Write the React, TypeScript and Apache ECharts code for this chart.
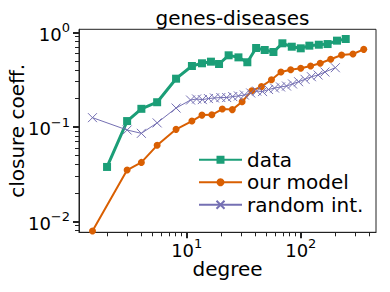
import React, { useEffect, useRef } from "react";
import * as echarts from "echarts";

const dataX = [2.0, 3.0, 4.0, 5.5, 8.06, 11.1, 13.6, 16.3, 19.2, 23.3, 28.4, 34, 40.6, 48.3, 57.6, 69, 83.4, 100, 119, 144, 172, 208, 248];
const dataY = [0.0376, 0.115, 0.155, 0.182, 0.323, 0.44, 0.47, 0.489, 0.462, 0.571, 0.543, 0.482, 0.682, 0.65, 0.619, 0.765, 0.704, 0.677, 0.722, 0.739, 0.751, 0.816, 0.849];

const modelX = [1.49, 3.0, 4.0, 5.5, 8.06, 11.1, 13.6, 16.6, 20.5, 25.1, 30.6, 37.2, 45.2, 55.3, 67, 81.6, 100, 122, 148, 183, 228, 287, 357];
const modelY = [0.00789, 0.0349, 0.042, 0.0637, 0.094, 0.115, 0.133, 0.134, 0.154, 0.152, 0.184, 0.241, 0.266, 0.315, 0.38, 0.402, 0.416, 0.44, 0.47, 0.518, 0.575, 0.589, 0.66];

const randomX = [1.49, 3.0, 4.0, 5.5, 8.06, 10.8, 12.2, 13.7, 15.5, 17.5, 19.9, 22.4, 25.3, 28.4, 32.0, 36.4, 41.1, 46.2, 52.2, 58.9, 66.5, 75.0, 84.7, 95.7, 109, 124, 142, 163, 201];
const randomY = [0.125, 0.0925, 0.0853, 0.11, 0.158, 0.192, 0.197, 0.194, 0.199, 0.202, 0.204, 0.204, 0.209, 0.212, 0.217, 0.228, 0.239, 0.236, 0.248, 0.257, 0.264, 0.27, 0.284, 0.3, 0.318, 0.339, 0.353, 0.38, 0.422];

const xMajorTicks = [10, 100];
const xMinorTicks = [2, 3, 4, 5, 6, 7, 8, 9, 20, 30, 40, 50, 60, 70, 80, 90, 200, 300, 400];
const yMajorTicks = [0.01, 0.1, 1];
const yMinorTicks = [0.008, 0.009, 0.02, 0.03, 0.04, 0.05, 0.06, 0.07, 0.08, 0.09, 0.2, 0.3, 0.4, 0.5, 0.6, 0.7, 0.8, 0.9];

const X_MIN = 1.135;
const X_MAX = 457;
const Y_MIN = 0.00765;
const Y_MAX = 1.076;

const FONT = "DejaVu Sans";
const AXIS_COLOR = "#222";

const zip = (xs: number[], ys: number[]) => xs.map((x, i) => [x, ys[i]]);

const powLabel = (v: number) => {
  const e = Math.round(Math.log10(v));
  const s = e < 0 ? "\u2212" + String(-e) : String(e);
  return "{b|10}{s|" + s + "}";
};

const richSup = {
  b: { fontFamily: FONT, fontSize: 18, color: "#000", verticalAlign: "bottom", padding: [4, 0, 0, 0] },
  s: { fontFamily: FONT, fontSize: 13, color: "#000", verticalAlign: "top" },
};

export default function App() {
  const ref = useRef<HTMLDivElement>(null);
  useEffect(() => {
    document.body.style.margin = "0";
    if (!ref.current) return;
    const chart = echarts.init(ref.current, null, { renderer: "svg" });
    const baseX = { type: "log", logBase: 10, min: X_MIN, max: X_MAX, gridIndex: 0, position: "bottom", splitLine: { show: false } };
    const baseY = { type: "log", logBase: 10, min: Y_MIN, max: Y_MAX, gridIndex: 0, position: "left", splitLine: { show: false } };
    chart.setOption({
      animation: false,
      title: {
        text: "genes-diseases",
        left: 227.5,
        top: 3,
        textAlign: "center",
        textStyle: { fontFamily: FONT, fontSize: 20, fontWeight: "normal", color: "#000" },
      },
      grid: {
        left: 79,
        right: 14,
        top: 29.3,
        bottom: 59.7,
        outerBoundsMode: "none",
        containLabel: false,
        show: true,
        borderColor: AXIS_COLOR,
        borderWidth: 1,
        backgroundColor: "transparent",
      },
      legend: {
        orient: "vertical",
        left: 193,
        top: 143,
        itemWidth: 43,
        itemHeight: 10,
        itemGap: -1,
        textStyle: { fontFamily: FONT, fontSize: 20, color: "#000", lineHeight: 23.5 },
        data: ["data", "our model", "random int."],
      },
      xAxis: [
        {
          ...baseX,
          name: "degree",
          nameLocation: "middle",
          nameGap: 27,
          nameMoveOverlap: false,
          nameTextStyle: { fontFamily: FONT, fontSize: 20, color: "#000" },
          axisLine: { show: true, lineStyle: { color: AXIS_COLOR, width: 1 } },
          axisTick: { show: true, length: 6, customValues: xMajorTicks, lineStyle: { color: AXIS_COLOR, width: 2 } },
          axisLabel: { show: true, margin: 5, fontFamily: FONT, fontSize: 18, customValues: xMajorTicks, formatter: powLabel, rich: richSup },
        },
        {
          ...baseX,
          axisLine: { show: false },
          axisTick: { show: true, length: 4, customValues: xMinorTicks, lineStyle: { color: AXIS_COLOR, width: 1 } },
          axisLabel: { show: false },
        },
      ],
      yAxis: [
        {
          ...baseY,
          name: "closure coeff.",
          nameLocation: "middle",
          nameGap: 52,
          nameRotate: 90,
          nameMoveOverlap: false,
          nameTextStyle: { fontFamily: FONT, fontSize: 20, color: "#000" },
          axisLine: { show: true, lineStyle: { color: AXIS_COLOR, width: 1 } },
          axisTick: { show: true, length: 6, customValues: yMajorTicks, lineStyle: { color: AXIS_COLOR, width: 2 } },
          axisLabel: { show: true, margin: 9, fontFamily: FONT, fontSize: 18, customValues: yMajorTicks, formatter: powLabel, rich: richSup },
        },
        {
          ...baseY,
          axisLine: { show: false },
          axisTick: { show: true, length: 4, customValues: yMinorTicks, lineStyle: { color: AXIS_COLOR, width: 1 } },
          axisLabel: { show: false },
        },
      ],
      series: [
        {
          name: "data",
          type: "line",
          xAxisIndex: 0,
          yAxisIndex: 0,
          data: zip(dataX, dataY),
          symbol: "rect",
          symbolSize: 8,
          lineStyle: { color: "#1b9e77", width: 3 },
          itemStyle: { color: "#1b9e77" },
        },
        {
          name: "our model",
          type: "line",
          xAxisIndex: 0,
          yAxisIndex: 0,
          data: zip(modelX, modelY),
          symbol: "circle",
          symbolSize: 7,
          lineStyle: { color: "#d95f02", width: 2 },
          itemStyle: { color: "#d95f02" },
        },
        {
          name: "random int.",
          type: "line",
          xAxisIndex: 0,
          yAxisIndex: 0,
          data: zip(randomX, randomY),
          symbol: "path://M0,0L10,10M10,0L0,10",
          symbolSize: 9,
          lineStyle: { color: "#7570b3", width: 1 },
          itemStyle: { color: "none", borderColor: "#7570b3", borderWidth: 1 },
        },
      ],
    });
    return () => chart.dispose();
  }, []);
  return <div ref={ref} style={{ width: 390, height: 292 }} />;
}
